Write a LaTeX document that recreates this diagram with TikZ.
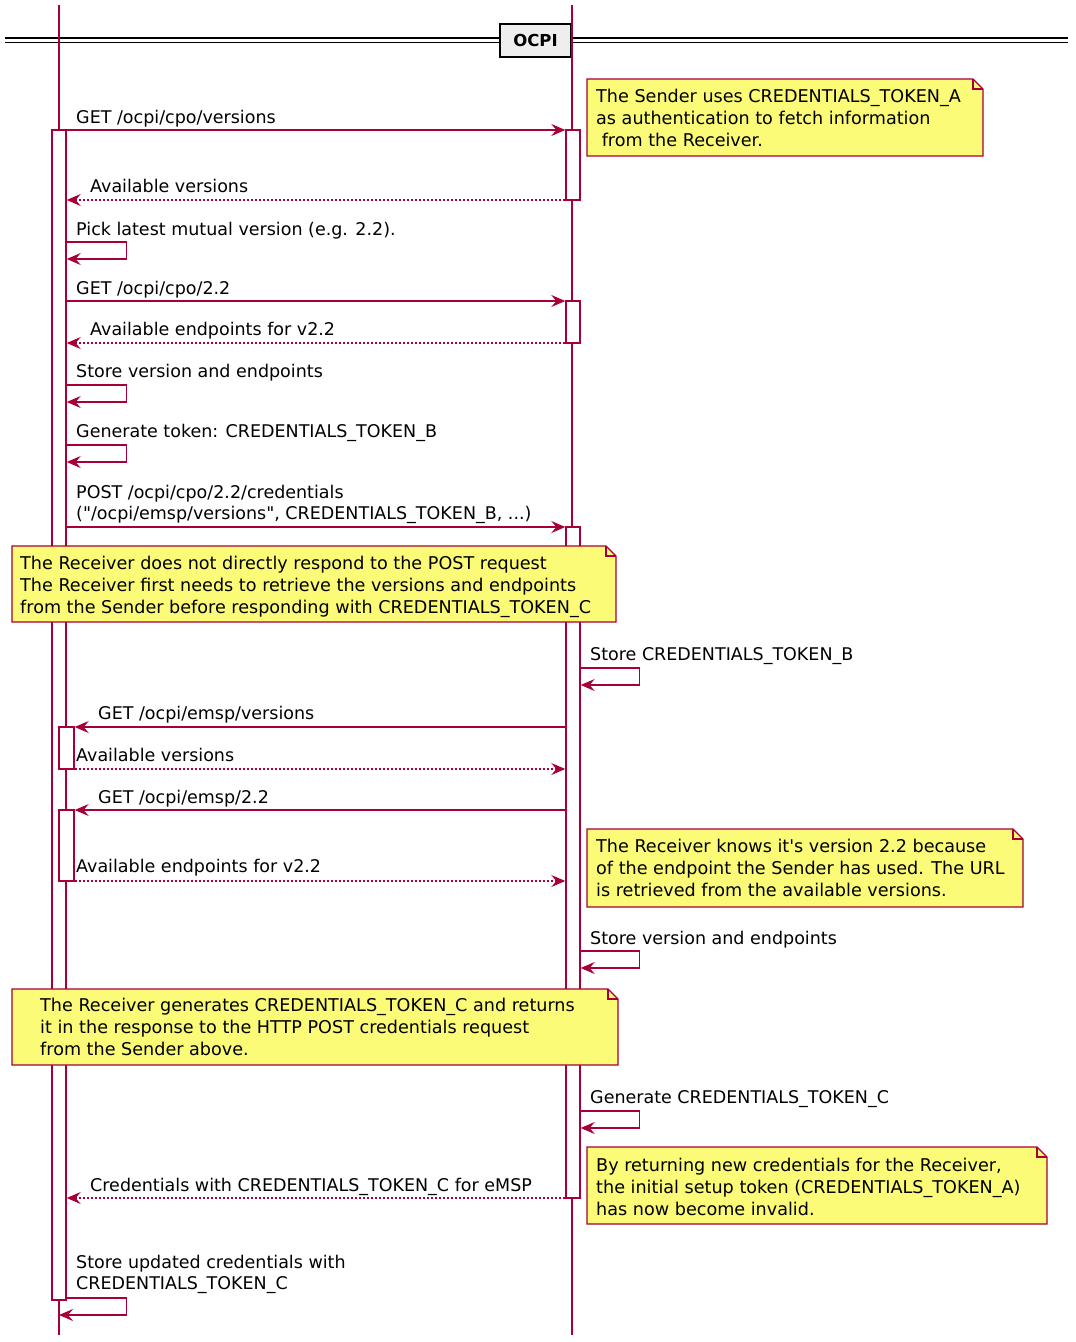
\documentclass[tikz,border=0pt]{standalone}
\usepackage{fontspec}
\setmainfont{DejaVu Sans}[Ligatures=TeXOff]
\usetikzlibrary{arrows.meta,calc,positioning}
\definecolor{umlred}{HTML}{A80036}
\definecolor{noteyellow}{HTML}{FBFB77}
\definecolor{titlegray}{HTML}{EEEEEE}

% note with folded corner: x1, y1, x2, y2
\newcommand{\notebox}[4]{%
  \filldraw[notebg] (#1,#2) -- (#3-10,#2) -- (#3,#2+10) -- (#3,#4) -- (#1,#4) -- cycle;
  \draw[notebg, fill=none] (#3-10,#2) -- (#3-10,#2+10) -- (#3,#2+10);}

\begin{document}
\begin{tikzpicture}[
    x=1pt, y=-1pt,
    lifeline/.style={draw=umlred, line width=1.2pt},
    actbar/.style={rectangle, draw=umlred, fill=white, line width=1.4pt, minimum width=14pt, inner sep=0pt},
    msg/.style={draw=umlred, line width=1.3pt, -{Stealth[length=14pt, width=12pt, inset=5pt]}},
    reply/.style={msg, dash pattern=on 2pt off 2pt},
    label/.style={font=\fontsize{17.5}{21}\selectfont, anchor=base west, inner sep=0pt},
    multilabel/.style={font=\fontsize{17.5}{21}\selectfont, anchor=north west, inner sep=0pt, align=left},
    notebg/.style={draw=umlred, fill=noteyellow, line width=1.3pt},
    notetext/.style={font=\fontsize{17.6}{21.8}\selectfont, anchor=north west, inner sep=0pt, align=left},
    titlebox/.style={rectangle, draw=black, fill=titlegray, line width=2pt, minimum width=71pt, minimum height=33pt, font=\fontsize{16.5}{20}\selectfont\bfseries}
]
\useasboundingbox (0,0) rectangle (1076,1342);

% Title bar
\draw[line width=1.5pt] (5,38) -- (1068,38);
\draw[line width=1.5pt] (5,42.5) -- (1068,42.5);
\node[titlebox] (ocpi) at (535.5,40.5) {OCPI};

% Lifelines
\coordinate (stop) at (59,5);
\coordinate (sbot) at (59,1335);
\coordinate (rtop) at (572,5);
\coordinate (rbot) at (572,1335);
\draw[lifeline] (stop) -- (sbot);
\draw[lifeline] (rtop) -- (rbot);

% Activation bars
\node[actbar, minimum height=1170pt] (sbar) at (59,715) {};
\node[actbar, minimum height=70pt] (rbar1) at (573,165) {};
\node[actbar, minimum height=42pt] (rbar2) at (573,322) {};
\node[actbar, minimum height=671pt] (rbar3) at (573,862.5) {};
\node[actbar, minimum width=15pt, minimum height=42pt] (snest1) at (66.5,748) {};
\node[actbar, minimum width=15pt, minimum height=71pt] (snest2) at (66.5,845.5) {};

% Versions
\draw[msg] (sbar.east |- 0,130) -- (rbar1.west |- 0,130);
\node[label] (m1) at (76,123) {GET /ocpi/cpo/versions};
\draw[reply] (rbar1.west |- 0,200) -- (sbar.east |- 0,200);
\node[label] (m2) at (90,192) {Available versions};
\draw[msg] (sbar.east |- 0,242) -- ++(60,0) -- ++(0,17) -- (sbar.east |- 0,259);
\node[label] (m3) at (76,235) {Pick latest mutual version (e.g. 2.2).};

% Endpoints
\draw[msg] (sbar.east |- 0,301) -- (rbar2.west |- 0,301);
\node[label] (m4) at (76,294) {GET /ocpi/cpo/2.2};
\draw[reply] (rbar2.west |- 0,343) -- (sbar.east |- 0,343);
\node[label] (m5) at (90,335) {Available endpoints for v2.2};
\draw[msg] (sbar.east |- 0,385) -- ++(60,0) -- ++(0,17) -- (sbar.east |- 0,402);
\node[label] (m6) at (76,377) {Store version and endpoints};
\draw[msg] (sbar.east |- 0,445) -- ++(60,0) -- ++(0,17) -- (sbar.east |- 0,462);
\node[label] (m7) at (76,437) {Generate token: CREDENTIALS\_TOKEN\_B};

% Credentials POST
\draw[msg] (sbar.east |- 0,527) -- (rbar3.west |- 0,527);
\node[multilabel] (m8) at (76,485) {POST /ocpi/cpo/2.2/credentials\\("/ocpi/emsp/versions", CREDENTIALS\_TOKEN\_B, ...)};

% Receiver side
\draw[msg] (rbar3.east |- 0,668) -- ++(59,0) -- ++(0,17) -- (rbar3.east |- 0,685);
\node[label] (m9) at (590,660) {Store CREDENTIALS\_TOKEN\_B};
\draw[msg] (rbar3.west |- 0,727) -- (snest1.east |- 0,727);
\node[label] (m10) at (98,719) {GET /ocpi/emsp/versions};
\draw[reply] (snest1.east |- 0,769) -- (rbar3.west |- 0,769);
\node[label] (m11) at (76,761) {Available versions};
\draw[msg] (rbar3.west |- 0,810) -- (snest2.east |- 0,810);
\node[label] (m12) at (98,803) {GET /ocpi/emsp/2.2};
\draw[reply] (snest2.east |- 0,881) -- (rbar3.west |- 0,881);
\node[label] (m13) at (76,872) {Available endpoints for v2.2};
\draw[msg] (rbar3.east |- 0,951) -- ++(59,0) -- ++(0,17) -- (rbar3.east |- 0,968);
\node[label] (m14) at (590,944) {Store version and endpoints};
\draw[msg] (rbar3.east |- 0,1111) -- ++(59,0) -- ++(0,17) -- (rbar3.east |- 0,1128);
\node[label] (m15) at (590,1103) {Generate CREDENTIALS\_TOKEN\_C};

% Credentials response
\draw[reply] (rbar3.west |- 0,1198) -- (sbar.east |- 0,1198);
\node[label] (m16) at (90,1191) {Credentials with CREDENTIALS\_TOKEN\_C for eMSP};
\draw[msg] (sbar.east |- 0,1298) -- ++(60,0) -- ++(0,17) -- (stop |- 0,1315);
\node[multilabel] (m17) at (76,1255) {Store updated credentials with\\CREDENTIALS\_TOKEN\_C};

% Notes
\notebox{587}{79}{983}{156}
\node[notetext] (n1) at (596,89) {The Sender uses CREDENTIALS\_TOKEN\_A\\as authentication to fetch information\\\ from the Receiver.};
\notebox{12}{546}{616}{622}
\node[notetext] (n2) at (20,556) {The Receiver does not directly respond to the POST request\\The Receiver first needs to retrieve the versions and endpoints\\from the Sender before responding with CREDENTIALS\_TOKEN\_C};
\notebox{587}{829}{1023}{907}
\node[notetext] (n3) at (596,839) {The Receiver knows it's version 2.2 because\\of the endpoint the Sender has used. The URL\\is retrieved from the available versions.};
\notebox{12}{989}{618}{1065}
\node[notetext] (n4) at (40,998) {The Receiver generates CREDENTIALS\_TOKEN\_C and returns\\it in the response to the HTTP POST credentials request\\from the Sender above.};
\notebox{587}{1147}{1047}{1224}
\node[notetext] (n5) at (596,1158) {By returning new credentials for the Receiver,\\the initial setup token (CREDENTIALS\_TOKEN\_A)\\has now become invalid.};

\end{tikzpicture}
\end{document}
